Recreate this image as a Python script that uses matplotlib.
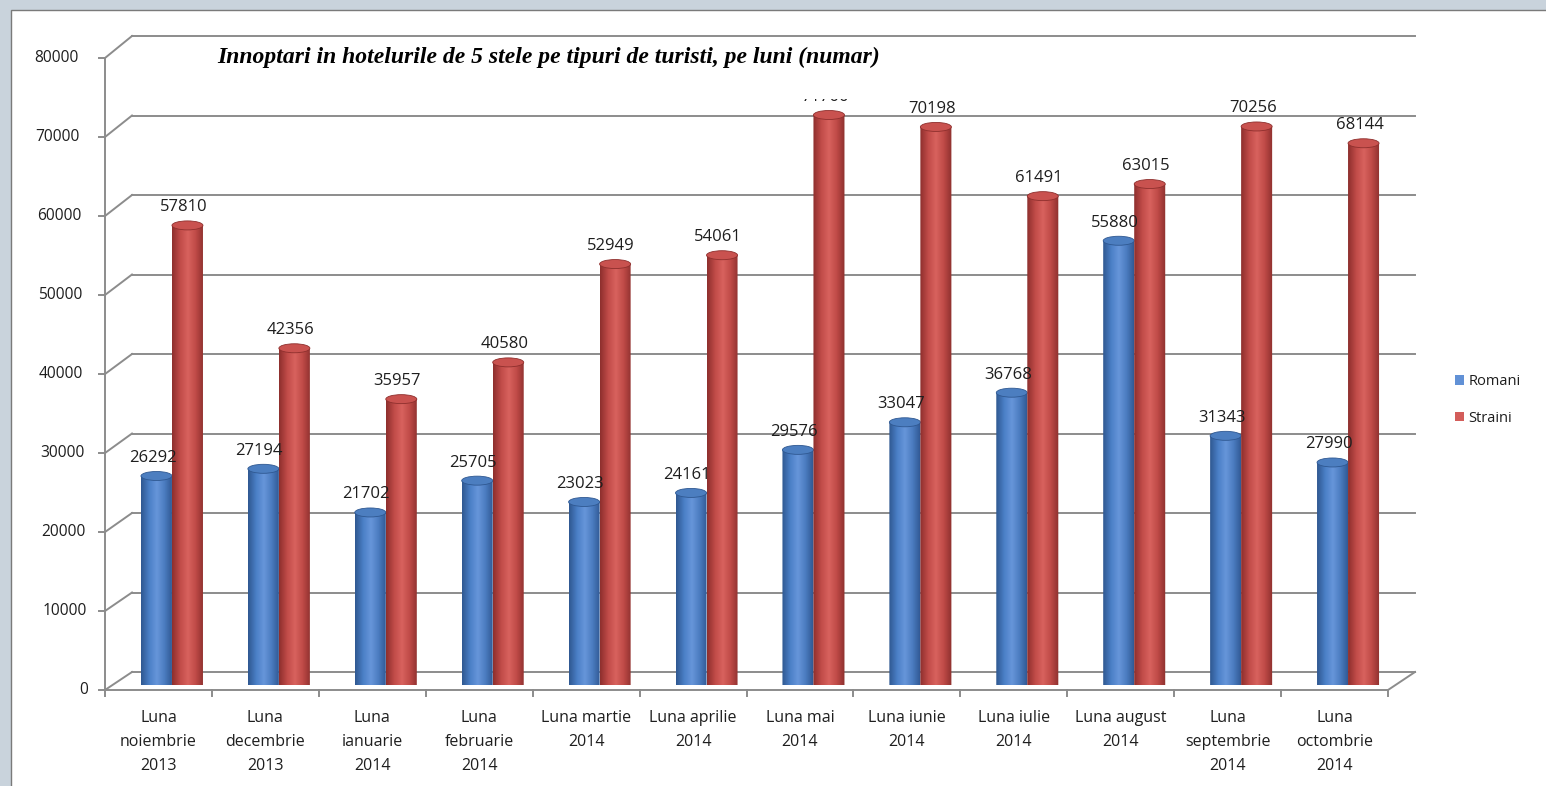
import numpy as np
import matplotlib
matplotlib.use('Agg')
import matplotlib.pyplot as plt
from matplotlib.patches import Ellipse, Rectangle, PathPatch, Patch
from matplotlib.path import Path
from matplotlib.lines import Line2D
from matplotlib.transforms import IdentityTransform, Bbox
from matplotlib.colors import LinearSegmentedColormap

TITLE = 'Innoptari in hotelurile de 5 stele pe tipuri de turisti, pe luni (numar)'
months = ['Luna\nnoiembrie\n2013', 'Luna\ndecembrie\n2013', 'Luna\nianuarie\n2014',
          'Luna\nfebruarie\n2014', 'Luna martie\n2014', 'Luna aprilie\n2014',
          'Luna mai\n2014', 'Luna iunie\n2014', 'Luna iulie\n2014',
          'Luna august\n2014', 'Luna\nseptembrie\n2014', 'Luna\noctombrie\n2014']
romani = [26292, 27194, 21702, 25705, 23023, 24161, 29576, 33047, 36768, 55880, 31343, 27990]
straini = [57810, 42356, 35957, 40580, 52949, 54061, 71700, 70198, 61491, 63015, 70256, 68144]
series = ['Romani', 'Straini']
yticks = [0, 10000, 20000, 30000, 40000, 50000, 60000, 70000, 80000]
YMAX = 80000

plt.rcParams['font.family'] = ['Open Sans', 'DejaVu Sans']
TXT = '#1e1e1e'
GRID = '#8c8c8c'

W, H = 1546, 786
fig = plt.figure(figsize=(W / 100, H / 100), dpi=100)
fig.patch.set_facecolor('#c9d3dc')
fig.add_artist(Rectangle((11 / W, -0.02), 1.0, 1.02 - 10 / H, transform=fig.transFigure,
                         fc='white', ec='#7a7a7a', lw=1.0, zorder=-5))

# axes = the plane through the middle of the cylinders (pixel frame, from top)
x0, x1, y0, y1 = 118.5, 1401.5, 685, 49
ax = fig.add_axes([x0 / W, (H - y0) / H, (x1 - x0) / W, (y0 - y1) / H])
ax.set_xlim(-0.5, len(months) - 0.5)
ax.set_ylim(0, YMAX)
ax.axis('off')
ID = IdentityTransform()


# fake 3d: front edge and back wall are shifted copies of the middle plane
def front(x, v):
    X, Y = ax.transData.transform((x, v))
    return X - 13.5, Y - 5 - 4 * v / YMAX


def back(x, v):
    X, Y = ax.transData.transform((x, v))
    return X + 13.5, Y + 13


def seg(p, q, color=GRID, lw=1.4, z=0.5):
    ax.add_line(Line2D([p[0], q[0]], [p[1], q[1]], transform=ID, color=color,
                       lw=lw, clip_on=False, zorder=z))


xa, xb = -0.5, len(months) - 0.5
for v in yticks:
    seg(front(xa, v), back(xa, v))
    seg(back(xa, v), back(xb, v))
    fx, fy = front(xa, v)
    seg((fx - 6, fy), (fx, fy))
    ax.text(fx - 17 - 9 * v / YMAX, fy, str(v), transform=ID, ha='right', va='center',
            fontsize=11.2, color=TXT, clip_on=False)
seg(front(xa, 0), front(xa, YMAX))
seg(front(xa, 0), front(xb, 0), z=1.5)
seg(front(xb, 0), back(xb, 0))
for k in range(len(months) + 1):
    fx, fy = front(k - 0.5, 0)
    seg((fx, fy), (fx, fy - 6))

# category labels, one line at a time
for i, lab in enumerate(months):
    fx, fy = front(i, 0)
    for j, line in enumerate(lab.split('\n')):
        ax.text(fx, fy - 28 - 24 * j, line, transform=ID, ha='center', va='center',
                fontsize=11.5, color=TXT, clip_on=False)

# cylinders
ppu = (y0 - y1) / YMAX
eh = 4.5 / ppu
w = 0.29
cmaps = [LinearSegmentedColormap.from_list('b', ['#2f5891', '#4a7fc6', '#6796da', '#4a7bbf', '#2f5690']),
         LinearSegmentedColormap.from_list('r', ['#8e2f2d', '#c04b48', '#d8625e', '#bf4a47', '#8e302e'])]
tops = ['#4c7ec0', '#c9524f']
grad = np.linspace(0, 1, 64)[None, :]
t = np.linspace(0, np.pi, 40)
label_clip = Bbox.from_extents(0, 0, W, H - 99)
z = 2
for k, vals in enumerate([romani, straini]):
    for i, v in enumerate(vals):
        xc = i + (k - 0.5) * w
        xl, xr = xc - w / 2, xc + w / 2
        arc = np.column_stack([xc - (w / 2) * np.cos(t), -eh * np.sin(t)])
        verts = np.vstack([[xl, v], arc, [xr, v], [xl, v]])
        body = PathPatch(Path(verts, closed=True), fc='none', ec='none')
        ax.add_patch(body)
        im = ax.imshow(grad, cmap=cmaps[k], extent=(xl, xr, -eh, v), aspect='auto',
                       interpolation='bilinear', zorder=z)
        im.set_clip_path(body)
        im.set_clip_box(None)
        ax.add_patch(Ellipse((xc, v), w, 2 * eh, fc=tops[k], ec=cmaps[k](0.0), lw=0.6,
                             zorder=z + 0.5, clip_on=False))
        z += 1
        X, Y = ax.transData.transform((xc, v))
        txt = ax.text(X - 4, Y + 18, str(v), transform=ID, ha='center', va='center',
                      fontsize=12, color=TXT, zorder=100)
        txt.set_clip_box(label_clip)
        txt.set_clip_on(True)
ax.set_xlim(xa, xb)
ax.set_ylim(0, YMAX)

fig.text(217 / W, 1 - 57 / H, TITLE, ha='left', va='center', fontsize=17,
         family='Liberation Serif', weight='bold', style='italic', color='black')

handles = [Patch(fc=cmaps[0](0.45), ec='none'), Patch(fc=cmaps[1](0.45), ec='none')]
fig.legend(handles, series, loc='center', bbox_to_anchor=(1488 / W, 1 - 400 / H),
           frameon=False, fontsize=10.5, handlelength=0.6, handleheight=0.6,
           handletextpad=0.3, labelspacing=1.5, labelcolor=TXT)

fig.savefig('out.png', dpi=100, facecolor=fig.get_facecolor())
